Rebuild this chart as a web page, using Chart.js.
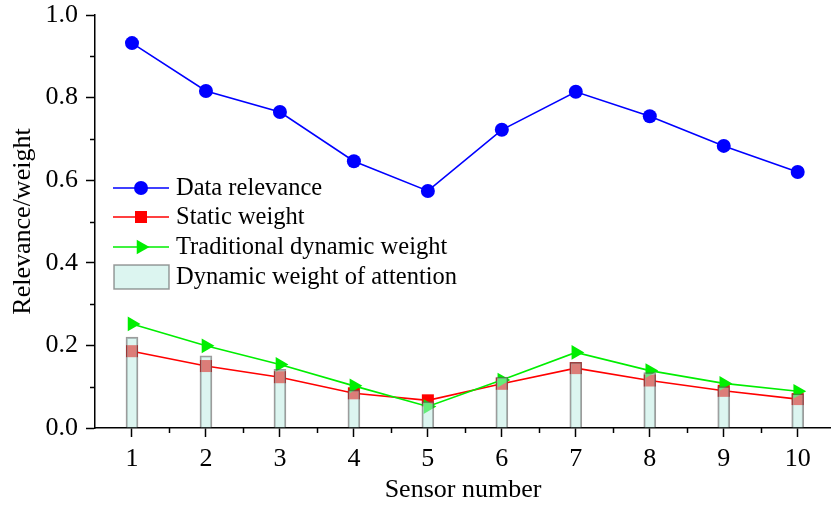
<!DOCTYPE html>
<html>
<head>
<meta charset="utf-8">
<script src="https://cdn.jsdelivr.net/npm/chart.js"></script>
<style>
  html, body { margin: 0; padding: 0; background: #fff; }
  #wrap { width: 831px; height: 506px; }
</style>
</head>
<body>
<div id="wrap"><canvas id="chart" width="831" height="506"></canvas></div>
<script>
// sensor readings, values
const sensors = [1, 2, 3, 4, 5, 6, 7, 8, 9, 10];
const dataRelevance = [0.932, 0.816, 0.765, 0.646, 0.574, 0.722, 0.814, 0.755, 0.683, 0.620];
const staticWeight = [0.186, 0.150, 0.123, 0.084, 0.067, 0.107, 0.145, 0.115, 0.090, 0.070];
const tradDynamicWeight = [0.252, 0.199, 0.154, 0.102, 0.052, 0.116, 0.183, 0.139, 0.108, 0.089];
const attentionWeight = [0.220, 0.175, 0.142, 0.092, 0.064, 0.123, 0.159, 0.134, 0.100, 0.083];
const yTicks = [0, 0.2, 0.4, 0.6, 0.8, 1.0];
const yMinorTicks = [0.1, 0.3, 0.5, 0.7, 0.9];
const xMinorTicks = [1.5, 2.5, 3.5, 4.5, 5.5, 6.5, 7.5, 8.5, 9.5];

const FONT = '"Liberation Serif", "Times New Roman", serif';
const BLUE = '#0000ff', RED = '#ff0000', GREEN = '#00ee00';
const BAR_FILL = 'rgba(189, 236, 226, 0.53)';
const BAR_EDGE = 'rgba(90, 90, 90, 0.6)';

const pts = arr => sensors.map((s, i) => ({ x: s, y: arr[i] }));

function marker(ctx, kind, x, y, color) {
  ctx.save();
  ctx.fillStyle = color;
  ctx.beginPath();
  if (kind === 'circle') {
    ctx.arc(x, y, 7, 0, Math.PI * 2);
  } else if (kind === 'rect') {
    ctx.rect(x - 6, y - 6, 12, 12);
  } else {
    const r = 8.5;
    ctx.moveTo(x + r, y);
    ctx.lineTo(x - r / 2, y - r * 0.866);
    ctx.lineTo(x - r / 2, y + r * 0.866);
    ctx.closePath();
  }
  ctx.fill();
  ctx.restore();
}

// minor ticks + legend inside the plot
const extras = {
  id: 'extras',
  afterDraw(chart) {
    const ctx = chart.ctx;
    const xs = chart.scales.x, ys = chart.scales.y;
    ctx.save();
    ctx.strokeStyle = '#000';
    ctx.lineWidth = 1.5;
    yMinorTicks.forEach(v => {
      const py = Math.round(ys.getPixelForValue(v)) + 0.5;
      ctx.beginPath(); ctx.moveTo(xs.left - 5, py); ctx.lineTo(xs.left, py); ctx.stroke();
    });
    xMinorTicks.forEach(v => {
      const px = Math.round(xs.getPixelForValue(v)) + 0.5;
      ctx.beginPath(); ctx.moveTo(px, ys.bottom); ctx.lineTo(px, ys.bottom + 5); ctx.stroke();
    });

    // legend
    const items = [
      { label: 'Data relevance', color: BLUE, kind: 'circle', y: 188 },
      { label: 'Static weight', color: RED, kind: 'rect', y: 217 },
      { label: 'Traditional dynamic weight', color: GREEN, kind: 'triangle', y: 247 },
      { label: 'Dynamic weight of attention', kind: 'box', y: 277 }
    ];
    ctx.font = '24.5px ' + FONT;
    ctx.textBaseline = 'middle';
    items.forEach(it => {
      if (it.kind === 'box') {
        ctx.fillStyle = BAR_FILL;
        ctx.fillRect(114, it.y - 12, 55, 24);
        ctx.strokeStyle = BAR_EDGE;
        ctx.lineWidth = 1.5;
        ctx.strokeRect(114, it.y - 12, 55, 24);
      } else {
        ctx.strokeStyle = it.color;
        ctx.lineWidth = 1.6;
        ctx.beginPath(); ctx.moveTo(113, it.y); ctx.lineTo(169, it.y); ctx.stroke();
        marker(ctx, it.kind, 141, it.y, it.color);
      }
      ctx.fillStyle = '#000';
      ctx.fillText(it.label, 176, it.y + 1);
    });
    ctx.restore();
  }
};

new Chart(document.getElementById('chart'), {
  type: 'bar',
  data: {
    datasets: [
      {
        type: 'line', label: 'Data relevance', data: pts(dataRelevance),
        borderColor: BLUE, backgroundColor: BLUE, borderWidth: 1.6,
        pointStyle: 'circle', pointRadius: 7, pointBorderWidth: 0, order: 3
      },
      {
        type: 'line', label: 'Static weight', data: pts(staticWeight),
        borderColor: RED, backgroundColor: RED, borderWidth: 1.6,
        pointStyle: 'rect', pointRadius: 8.5, pointBorderWidth: 0, order: 2
      },
      {
        type: 'line', label: 'Traditional dynamic weight', data: pts(tradDynamicWeight),
        borderColor: GREEN, backgroundColor: GREEN, borderWidth: 1.6,
        pointStyle: 'triangle', pointRotation: 90, pointRadius: 8.5, pointBorderWidth: 0, order: 1
      },
      {
        type: 'bar', label: 'Dynamic weight of attention', data: pts(attentionWeight),
        backgroundColor: BAR_FILL, borderColor: BAR_EDGE, borderWidth: 1.5,
        barThickness: 12, order: 0
      }
    ]
  },
  options: {
    responsive: false,
    animation: false,
    layout: { autoPadding: false, padding: { top: 15, right: 0, left: 0, bottom: 0 } },
    plugins: { legend: { display: false }, tooltip: { enabled: false } },
    scales: {
      x: {
        type: 'linear', min: 0.5, max: 10.45, offset: false,
        grid: { offset: false, drawOnChartArea: false, tickLength: 9, color: '#000', tickWidth: 1.5 },
        border: { display: true, color: '#000', width: 1.5 },
        afterBuildTicks: s => { s.ticks = sensors.map(v => ({ value: v })); },
        afterFit: s => { s.height = 78; s.paddingLeft = 0; s.paddingRight = 0; },
        ticks: { color: '#000', font: { family: FONT, size: 26 }, padding: 7, maxRotation: 0 },
        title: { display: true, text: 'Sensor number', color: '#000', font: { family: FONT, size: 26 }, padding: { top: 0, bottom: 0 } }
      },
      y: {
        min: 0, max: 1.0,
        grid: { drawOnChartArea: false, tickLength: 9, color: '#000', tickWidth: 1.5 },
        border: { display: true, color: '#000', width: 1.5 },
        afterBuildTicks: s => { s.ticks = yTicks.map(v => ({ value: v })); },
        afterFit: s => { s.width = 95; s.paddingTop = 0; s.paddingBottom = 0; },
        ticks: { color: '#000', font: { family: FONT, size: 26 }, padding: 8, callback: v => Number(v).toFixed(1) },
        title: { display: true, text: 'Relevance/weight', color: '#000', font: { family: FONT, size: 26 }, padding: { top: 8, bottom: 0 } }
      }
    }
  },
  plugins: [extras]
});
</script>
</body>
</html>
